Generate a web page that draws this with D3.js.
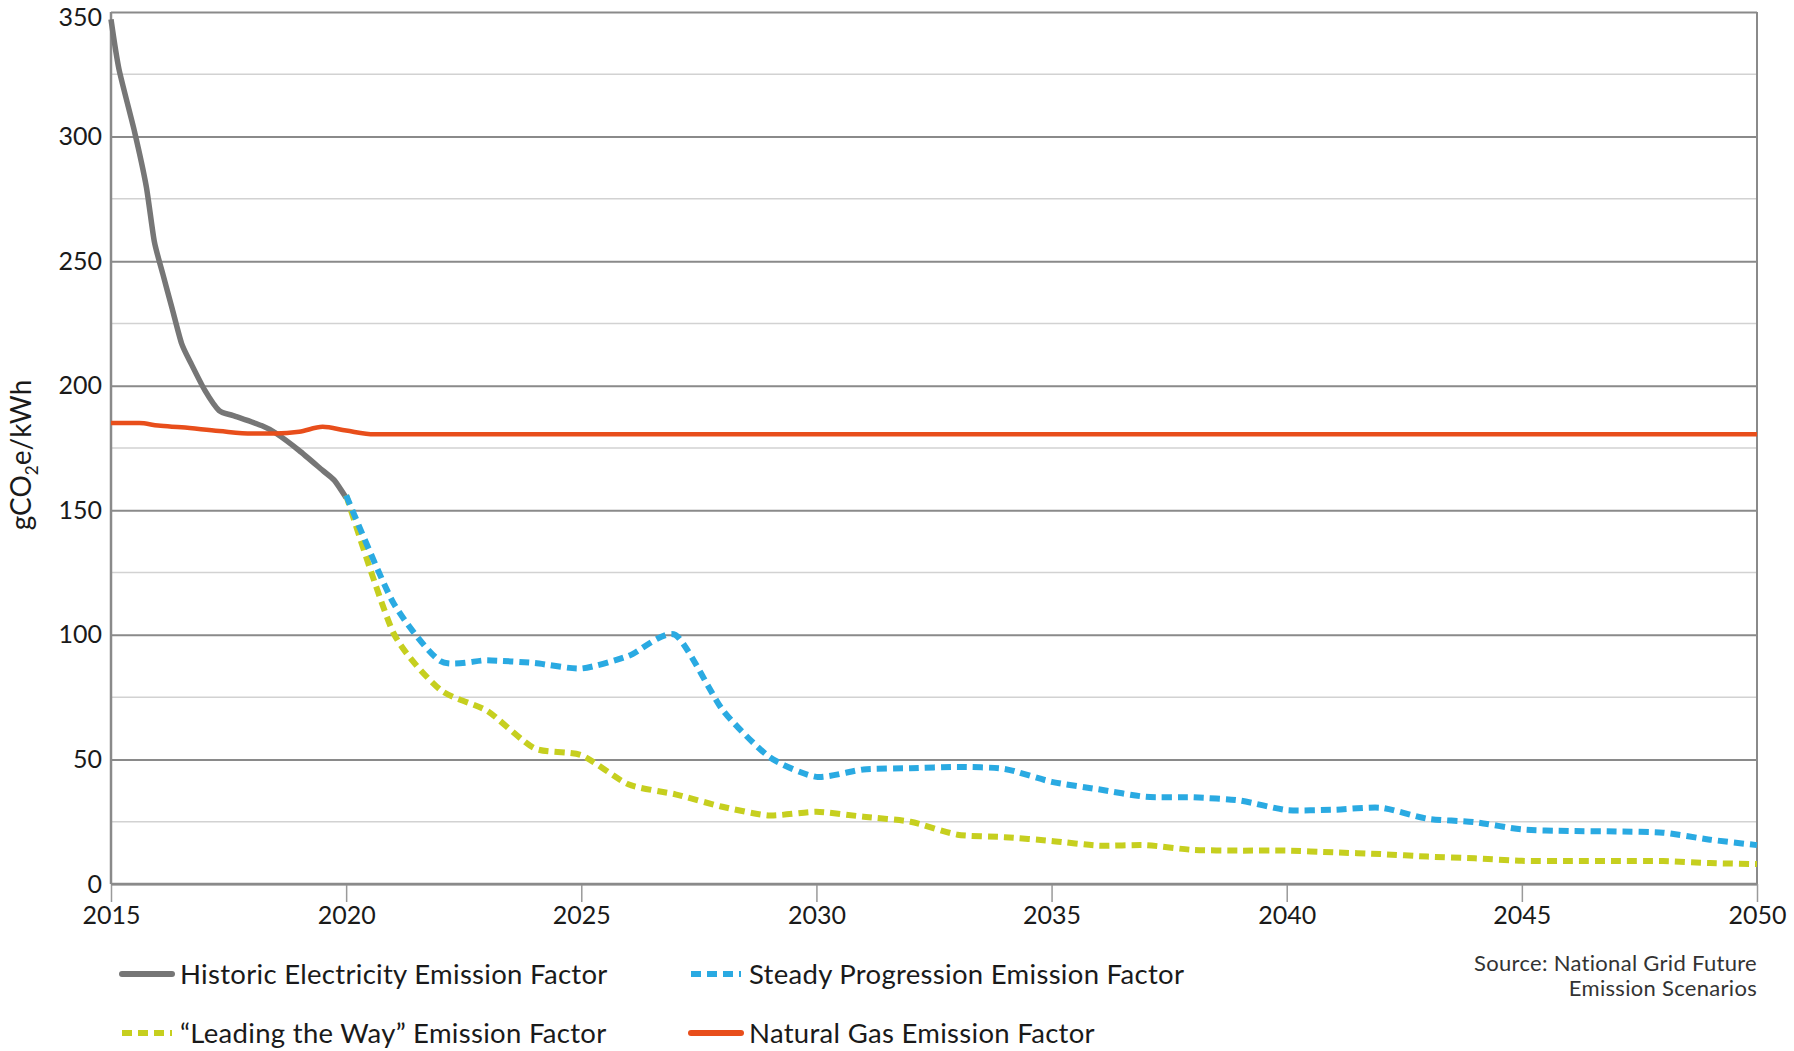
<!DOCTYPE html>
<html lang="en">
<head>
<meta charset="utf-8" />
<title>Emission factors</title>
<script src="https://cdn.jsdelivr.net/npm/d3@7"></script>
<style>
body { margin: 0; background: white; }
text { font-family: Lato, "Open Sans", sans-serif; fill: #1a1a1a; }
</style>
</head>
<body>
<script>

// data (year, gCO2e/kWh)
var historic = [[2015,347],[2015.17,327],[2015.5,302],[2015.75,280],[2015.92,258],[2016.1,245],
  [2016.3,231],[2016.5,217],[2016.7,209],[2017,198],[2017.3,190],[2017.6,188],[2018.2,184],
  [2018.5,181],[2019,174],[2019.5,166],[2019.75,162],[2020,155]];
var gas = [[2015,185],[2015.6,185],[2016,184],[2016.5,183.3],[2017.3,181.8],[2018,180.8],
  [2018.5,180.8],[2019,181.5],[2019.5,183.5],[2020,182],[2020.6,180.5],[2050,180.5]];
var years = [2020,2021,2022,2023,2024,2025,2026,2027,2028,2029,2030,2031,2032,2033,2034,2035,
  2036,2037,2038,2039,2040,2041,2042,2043,2044,2045,2046,2047,2048,2049,2050];
var steady = [156,113,89.5,89.8,88.7,86.5,91.5,100,70,51,43,46,46.5,47,46.2,41,38,35,34.8,33.5,
  29.7,29.8,30.6,26.2,24.8,21.9,21.3,21.1,20.6,17.8,15.6];
var leading = [156,101,78,69.5,54.5,51.7,40,36,31,27.5,29,27,25,19.8,18.8,17.3,15.4,15.6,13.7,13.4,
  13.4,12.7,12,11,10.3,9.3,9.2,9.2,9.2,8.4,8];
var xTicks = [2015,2020,2025,2030,2035,2040,2045,2050];
var yTicks = [0,50,100,150,200,250,300,350];
var yMinor = [25,75,125,175,225,275,325];

var w = 1794, h = 1051;
var x = d3.scaleLinear().domain([2015, 2050]).range([111, 1757]);
var y = d3.scaleLinear().domain([0, 350]).range([884, 12]);

var svg = d3.select("body").append("svg").attr("width", w).attr("height", h);

// minor gridlines
svg.append("g").selectAll("line").data(yMinor).enter().append("line")
   .attr("x1", x(2015)).attr("x2", x(2050))
   .attr("y1", function(d) { return y(d); }).attr("y2", function(d) { return y(d); })
   .attr("stroke", "#d2d2d2").attr("stroke-width", 1.5);

// y axis with major gridlines
var yAxis = d3.axisLeft(y).tickValues(yTicks).tickSize(-(x(2050) - x(2015))).tickPadding(10);
var gy = svg.append("g").attr("transform", "translate(" + x(2015) + ",0)").call(yAxis);
gy.select(".domain").remove();
gy.selectAll(".tick line").attr("stroke", "#8a8a8a").attr("stroke-width", 2);
gy.selectAll(".tick text").style("font-size", "25px").attr("x", -9)
  .attr("dy", function(d) { return d === 350 ? "0.52em" : "0.32em"; });

// vertical gridlines, extending below the axis as ticks
var xAxis = d3.axisBottom(x).tickValues(xTicks).tickFormat(d3.format("d"))
              .tickSize(-(y(0) - y(350))).tickPadding(0);
var gx = svg.append("g").attr("transform", "translate(0," + y(0) + ")").call(xAxis);
gx.select(".domain").remove();
gx.selectAll(".tick line").attr("stroke", "#9a9a9a").attr("stroke-width", 1.5).attr("y2", 18);
gx.selectAll(".tick text").style("font-size", "25px").attr("y", 22).attr("dy", "0.71em");

// axis frame
svg.append("line").attr("x1", x(2015)).attr("x2", x(2050)).attr("y1", y(0)).attr("y2", y(0))
   .attr("stroke", "#8a8a8a").attr("stroke-width", 2.5);
svg.append("line").attr("x1", x(2015)).attr("x2", x(2015)).attr("y1", y(350)).attr("y2", y(0))
   .attr("stroke", "#8a8a8a").attr("stroke-width", 2.5);
svg.append("line").attr("x1", x(2050)).attr("x2", x(2050)).attr("y1", y(350)).attr("y2", y(0))
   .attr("stroke", "#8a8a8a").attr("stroke-width", 2);

var line = d3.line()
  .x(function(d) { return x(d[0]); })
  .y(function(d) { return y(d[1]); })
  .curve(d3.curveCardinal.tension(0.35));

function pairs(vals) { return years.map(function(yr, i) { return [yr, vals[i]]; }); }

svg.append("path").datum(historic).attr("d", line).attr("fill", "none")
   .attr("stroke", "#767676").attr("stroke-width", 5.5);
svg.append("path").datum(pairs(leading)).attr("d", line).attr("fill", "none")
   .attr("stroke", "#c6cf1f").attr("stroke-width", 6).attr("stroke-dasharray", "10,6");
svg.append("path").datum(pairs(steady)).attr("d", line).attr("fill", "none")
   .attr("stroke", "#2aaae2").attr("stroke-width", 6).attr("stroke-dasharray", "10,6");
svg.append("path").datum(gas).attr("d", d3.line()
     .x(function(d) { return x(d[0]); }).y(function(d) { return y(d[1]); })
     .curve(d3.curveMonotoneX)).attr("fill", "none")
   .attr("stroke", "#e84e1b").attr("stroke-width", 4.5);

// y axis title
var yt = svg.append("text").attr("transform", "translate(31,455) rotate(-90)")
   .attr("text-anchor", "middle").style("font-size", "28px");
yt.append("tspan").text("gCO");
yt.append("tspan").text("2").style("font-size", "17px").attr("dy", 7);
yt.append("tspan").text("e/kWh").attr("dy", -7);

// legend
var legend = [
  {label: "Historic Electricity Emission Factor", color: "#767676", dash: null, x: 122, y: 974},
  {label: "Steady Progression Emission Factor", color: "#2aaae2", dash: "10,6", x: 691, y: 974},
  {label: "\u201CLeading the Way\u201D Emission Factor", color: "#c6cf1f", dash: "10,6", x: 122, y: 1033},
  {label: "Natural Gas Emission Factor", color: "#e84e1b", dash: null, x: 691, y: 1033}
];
var lg = svg.append("g").selectAll("g").data(legend).enter().append("g")
   .attr("transform", function(d) { return "translate(" + d.x + "," + d.y + ")"; });
lg.append("line").attr("x1", 0).attr("x2", 50).attr("y1", 0).attr("y2", 0)
  .attr("stroke", function(d) { return d.color; }).attr("stroke-width", 6)
  .attr("stroke-linecap", function(d) { return d.dash ? "butt" : "round"; })
  .attr("stroke-dasharray", function(d) { return d.dash; });
lg.append("text").attr("x", 58).attr("dy", "0.35em").style("font-size", "27.5px")
  .style("letter-spacing", "0.3px")
  .text(function(d) { return d.label; });

// source note
svg.append("text").attr("x", x(2050)).attr("y", 971).attr("text-anchor", "end")
   .style("font-size", "22px").style("fill", "#333").style("letter-spacing", "0.3px")
   .text("Source: National Grid Future");
svg.append("text").attr("x", x(2050)).attr("y", 996).attr("text-anchor", "end")
   .style("font-size", "22px").style("fill", "#333").style("letter-spacing", "0.3px")
   .text("Emission Scenarios");

</script>
</body>
</html>
